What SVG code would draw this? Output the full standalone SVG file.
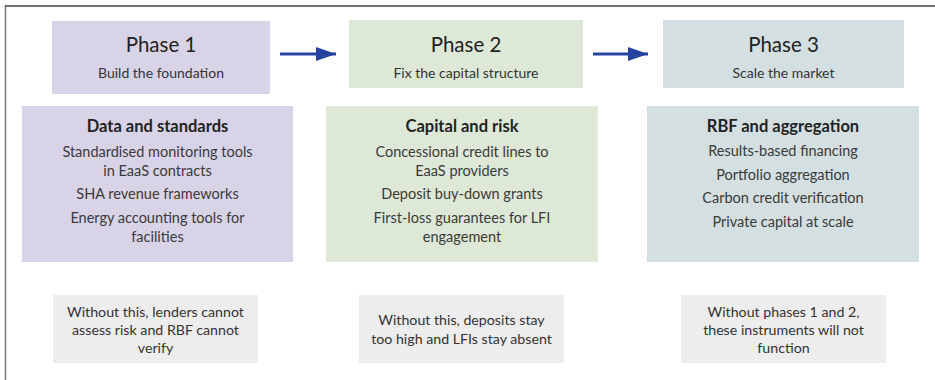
<svg xmlns="http://www.w3.org/2000/svg" width="935" height="380" viewBox="0 0 935 380">
  <defs>
    <style>
      .t { font-family: Lato, "Noto Sans", "Liberation Sans", sans-serif; text-anchor: middle; }
      .title { font-size: 20.5px; fill: #222; }
      .sub { font-size: 14px; fill: #333; }
      .head { font-size: 16.5px; font-weight: bold; fill: #222; }
      .body { font-size: 14.5px; fill: #3a3a3a; }
      .note { font-size: 14.2px; fill: #333; }
      .p1 { fill: #d9d3e8; }
      .p2 { fill: #dee8d6; }
      .p3 { fill: #d4dfe1; }
      .nb { fill: #ededed; }
      .conn { stroke: #2443a0; stroke-width: 3; fill: none; }
    </style>
    <marker id="arrowhead" markerUnits="userSpaceOnUse" markerWidth="20" markerHeight="14" refX="20" refY="7" orient="auto">
      <path d="M0,0 L20,7 L0,14 Z" fill="#2443a0"/>
    </marker>
  </defs>

  <rect width="935" height="380" fill="#ffffff"/>
  <!-- frame -->
  <line x1="5.5" y1="6" x2="5.5" y2="380" stroke="#7d7d7d" stroke-width="1.6"/>
  <line x1="5" y1="6" x2="935" y2="6" stroke="#444" stroke-width="1.6"/>

  <!-- phase headers -->
  <g id="phase1">
    <rect class="p1" x="52" y="21" width="218" height="73"/>
    <text class="t title" x="161" y="52">Phase 1</text>
    <text class="t sub" x="161" y="77.5">Build the foundation</text>
  </g>
  <g id="phase2">
    <rect class="p2" x="349" y="20" width="234" height="68"/>
    <text class="t title" x="466" y="52">Phase 2</text>
    <text class="t sub" x="466" y="77.5">Fix the capital structure</text>
  </g>
  <g id="phase3">
    <rect class="p3" x="663" y="20" width="241" height="68"/>
    <text class="t title" x="783.5" y="52">Phase 3</text>
    <text class="t sub" x="783.5" y="77.5">Scale the market</text>
  </g>

  <!-- detail boxes -->
  <g id="data-standards">
    <rect class="p1" x="22" y="106" width="271" height="156"/>
    <text class="t head" x="157.5" y="132">Data and standards</text>
    <text class="t body" x="157.5" y="157">Standardised monitoring tools</text>
    <text class="t body" x="157.5" y="176">in EaaS contracts</text>
    <text class="t body" x="157.5" y="199">SHA revenue frameworks</text>
    <text class="t body" x="157.5" y="223">Energy accounting tools for</text>
    <text class="t body" x="157.5" y="242">facilities</text>
  </g>
  <g id="capital-risk">
    <rect class="p2" x="326" y="106" width="272" height="156"/>
    <text class="t head" x="462" y="132">Capital and risk</text>
    <text class="t body" x="462" y="157">Concessional credit lines to</text>
    <text class="t body" x="462" y="176">EaaS providers</text>
    <text class="t body" x="462" y="199">Deposit buy-down grants</text>
    <text class="t body" x="462" y="223">First-loss guarantees for LFI</text>
    <text class="t body" x="462" y="242">engagement</text>
  </g>
  <g id="rbf-aggregation">
    <rect class="p3" x="647" y="106" width="272" height="156"/>
    <text class="t head" x="783" y="132">RBF and aggregation</text>
    <text class="t body" x="783" y="156">Results-based financing</text>
    <text class="t body" x="783" y="179.5">Portfolio aggregation</text>
    <text class="t body" x="783" y="203">Carbon credit verification</text>
    <text class="t body" x="783" y="227">Private capital at scale</text>
  </g>

  <!-- consequence notes -->
  <g id="note1">
    <rect class="nb" x="53" y="295" width="205" height="68"/>
    <text class="t note" x="155.5" y="316.5">Without this, lenders cannot</text>
    <text class="t note" x="155.5" y="335">assess risk and RBF cannot</text>
    <text class="t note" x="155.5" y="353">verify</text>
  </g>
  <g id="note2">
    <rect class="nb" x="359" y="295" width="205" height="68"/>
    <text class="t note" x="461.5" y="325">Without this, deposits stay</text>
    <text class="t note" x="461.5" y="344">too high and LFIs stay absent</text>
  </g>
  <g id="note3">
    <rect class="nb" x="681" y="295" width="205" height="68"/>
    <text class="t note" x="783.5" y="316.5">Without phases 1 and 2,</text>
    <text class="t note" x="783.5" y="335">these instruments will not</text>
    <text class="t note" x="783.5" y="353">function</text>
  </g>

  <!-- connectors -->
  <g id="connectors">
    <line class="conn" x1="280" y1="54" x2="336" y2="54" marker-end="url(#arrowhead)"/>
    <line class="conn" x1="593" y1="54" x2="648" y2="54" marker-end="url(#arrowhead)"/>
  </g>
</svg>
